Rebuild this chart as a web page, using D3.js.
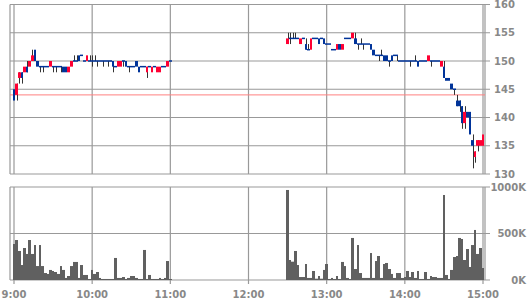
<!DOCTYPE html>
<html>
<head>
<meta charset="utf-8">
<script src="https://cdn.jsdelivr.net/npm/d3@7"></script>
<style>
  body { margin: 0; background: #fff; }
  text { font-family: "DejaVu Sans", sans-serif; font-weight: bold; fill: #888; font-size: 10px; }
</style>
</head>
<body>
<div id="chart"></div>
<script>
// sessions, 2 minute bars, minutes counted from 9:00
const amStart = 0;     // 9:00
const pmStart = 210;   // 12:30
const barMinutes = 2;

const hourLabels = ["9:00", "10:00", "11:00", "12:00", "13:00", "14:00", "15:00"];
const priceTicks = [130, 135, 140, 145, 150, 155, 160];
const volumeTicks = [0, 500, 1000];
const volumeLabels = ["0K", "500K", "1000K"];
const prevClose = 144;

// [open, high, low, close]
const amCandles = [
  [145,145,143,143],[144,146,143,146],[147,148,146,148],[148,148,146,147],[148,149,148,149],
  [149,150,148,148],[149,150,149,150],[150,152,150,151],[152,152,150,150],[150,150,149,149],
  [149,149,148,149],[149,149,148,149],[149,149,149,149],[149,149,149,149],[149,150,149,150],
  [149,149,148,149],[149,149,148,149],[149,149,149,149],[149,149,148,149],[149,149,148,148],
  [149,149,148,148],[148,149,148,149],[149,150,149,150],[150,151,150,150],[150,151,150,150],
  [151,151,150,150],[151,151,151,151],[150,150,150,150],[150,151,150,151],[150,151,150,150],
  [150,151,149,150],[150,151,150,150],[150,150,149,150],[150,150,150,150],[150,150,149,150],
  [150,150,150,150],[150,150,149,150],[150,150,150,150],[150,150,148,149],[149,149,149,149],
  [149,150,149,150],[149,150,149,150],[150,150,149,150],[150,150,149,149],[149,149,148,149],
  [149,149,149,149],[149,149,149,149],[150,150,149,149],[149,149,148,148],[149,149,149,149],
  [149,149,149,149],[148,149,147,149],[149,149,149,149],[148,149,148,149],[149,149,149,149],
  [148,149,148,149],[148,149,148,149],[149,149,149,149],[149,149,149,149],[149,150,149,150],
  [150,150,150,150]
];

const pmCandles = [
  [153,155,153,154],[154,155,153,154],[154,155,154,154],[154,155,154,154],[154,154,154,154],
  [153,154,153,154],[154,154,154,154],[153,154,152,152],[152,153,152,152],[152,154,152,154],
  [154,154,154,154],[154,154,154,154],[154,154,153,153],[154,154,154,154],[154,154,153,153],
  [153,153,153,153],[153,153,153,153],[152,152,152,152],[152,152,152,152],[152,153,152,153],
  [153,153,152,152],[152,153,152,153],[154,154,154,154],[154,154,154,154],[154,154,154,154],
  [154,155,154,155],[154,155,153,153],[153,153,152,153],[153,154,153,153],[153,153,152,153],
  [153,153,153,153],[153,153,153,153],[153,153,152,152],[152,152,151,151],[151,151,151,151],
  [151,151,150,151],[151,152,151,151],[151,151,150,150],[151,151,150,150],[150,150,149,150],
  [151,151,150,150],[151,151,151,151],[151,151,150,151],[150,150,150,150],[150,150,150,150],
  [150,150,150,150],[150,150,150,150],[150,150,149,150],[150,150,150,150],[150,151,150,150],
  [150,150,149,149],[150,150,150,150],[150,150,150,150],[150,150,150,150],[150,151,150,151],
  [150,150,149,150],[150,150,150,150],[150,150,150,150],[150,150,150,150],[149,150,149,150],
  [149,150,147,147],[147,147,146.5,146.5],[147,147,146.5,146.5],[146,146,145,145],[145,145,144,145],
  [143,144,142,142],[143,143,141,142],[142,142,138,139],[139,142,138,141],[141,141,140,140],
  [141,141,137,137],[136,137,131,135],[133,134,132,134],[135,136,134,136],[135,136,135,136],
  [135,137,135,137]
];

// volume in thousands of shares
const amVolume = [
  387,430,312,161,344,280,430,280,376,150,376,150,75,65,108,97,86,65,150,108,
  22,43,150,194,194,22,161,54,54,11,108,65,86,22,11,11,11,11,11,237,
  22,22,32,11,22,43,43,22,11,11,323,11,54,11,11,11,22,11,22,204,11
];
const pmVolume = [
  968,215,197,312,161,32,32,172,22,22,97,14,43,14,108,172,11,22,11,43,
  11,194,150,22,11,452,118,376,75,22,22,22,290,22,204,258,22,172,183,118,
  65,22,75,75,22,32,97,32,86,22,97,11,11,86,11,43,32,32,22,22,
  914,54,11,108,247,258,452,441,215,333,140,376,538,280,344,129
];

const bars = [];
amCandles.forEach((c, i) => bars.push({ t: amStart + i * barMinutes, o: c[0], h: c[1], l: c[2], c: c[3], v: amVolume[i] }));
pmCandles.forEach((c, i) => bars.push({ t: pmStart + i * barMinutes, o: c[0], h: c[1], l: c[2], c: c[3], v: pmVolume[i] }));

const width = 530, height = 300;
const left = 10, right = 485;
const gridColor = "#999";

const x = d3.scaleLinear().domain([0, 360]).range([14, 483]);
const yPrice = d3.scaleLinear().domain([130, 160]).range([174, 4.5]);
const yVol = d3.scaleLinear().domain([0, 1000]).range([280, 187]);

// whole-pixel bar edges so neighbouring bars touch without seams
const barLeft = d => Math.round(x(d.t - barMinutes / 2));
const barRight = d => Math.round(x(d.t + barMinutes / 2));

const svg = d3.select("#chart").append("svg")
    .attr("width", width)
    .attr("height", height);

// price grid
svg.selectAll(".pgrid").data(priceTicks).enter().append("line")
    .attr("x1", left).attr("x2", right + 5)
    .attr("y1", d => yPrice(d)).attr("y2", d => yPrice(d))
    .attr("stroke", gridColor).attr("stroke-width", 1.2);

// volume grid
svg.selectAll(".vgrid").data(volumeTicks).enter().append("line")
    .attr("x1", left).attr("x2", right + 5)
    .attr("y1", d => yVol(d)).attr("y2", d => yVol(d))
    .attr("stroke", gridColor).attr("stroke-width", 1.2);

// hour lines in both panels
hourLabels.forEach((label, i) => {
    const hx = x(i * 60);
    svg.append("line")
        .attr("x1", hx).attr("x2", hx)
        .attr("y1", yPrice(160)).attr("y2", yPrice(130))
        .attr("stroke", gridColor).attr("stroke-width", 1.2);
    svg.append("line")
        .attr("x1", hx).attr("x2", hx)
        .attr("y1", yVol(1000)).attr("y2", yVol(0) + 4)
        .attr("stroke", gridColor).attr("stroke-width", 1.2);
    svg.append("text")
        .attr("x", hx).attr("y", 298)
        .attr("text-anchor", "middle")
        .text(label);
});

// panel side borders
[left, right].forEach(bx => {
    svg.append("line")
        .attr("x1", bx).attr("x2", bx)
        .attr("y1", yPrice(160)).attr("y2", yPrice(130))
        .attr("stroke", gridColor).attr("stroke-width", 1.2);
    svg.append("line")
        .attr("x1", bx).attr("x2", bx)
        .attr("y1", yVol(1000)).attr("y2", yVol(0))
        .attr("stroke", gridColor).attr("stroke-width", 1.2);
});

// axis labels
svg.selectAll(".plabel").data(priceTicks).enter().append("text")
    .attr("x", 494).attr("y", d => yPrice(d))
    .attr("dy", "0.36em")
    .text(d => d);

svg.selectAll(".vlabel").data(volumeTicks).enter().append("text")
    .attr("x", 526).attr("y", d => yVol(d))
    .attr("dy", "0.36em")
    .attr("text-anchor", "end")
    .text((d, i) => volumeLabels[i]);

// previous close
svg.append("line")
    .attr("x1", left).attr("x2", right)
    .attr("y1", yPrice(prevClose)).attr("y2", yPrice(prevClose))
    .attr("stroke", "#ff8080").attr("stroke-width", 1);

// wicks
svg.selectAll(".wick").data(bars.filter(d => d.h > Math.max(d.o, d.c) || d.l < Math.min(d.o, d.c)))
    .enter().append("line")
    .attr("x1", d => Math.round(x(d.t)) + 0.5).attr("x2", d => Math.round(x(d.t)) + 0.5)
    .attr("y1", d => yPrice(d.h)).attr("y2", d => yPrice(d.l))
    .attr("stroke", "#333").attr("stroke-width", 1);

// bodies
svg.selectAll(".body").data(bars).enter().append("rect")
    .attr("x", barLeft)
    .attr("width", d => barRight(d) - barLeft(d))
    .attr("y", d => d.o === d.c ? yPrice(d.c) - 0.75 : yPrice(Math.max(d.o, d.c)))
    .attr("height", d => d.o === d.c ? 1.5 : Math.abs(yPrice(d.o) - yPrice(d.c)))
    .attr("fill", d => d.c > d.o ? "#ff0033" : "#003399");

// volume
svg.selectAll(".vol").data(bars).enter().append("rect")
    .attr("x", barLeft)
    .attr("width", d => barRight(d) - barLeft(d))
    .attr("y", d => yVol(d.v))
    .attr("height", d => yVol(0) - yVol(d.v))
    .attr("fill", "#606060");
</script>
</body>
</html>
